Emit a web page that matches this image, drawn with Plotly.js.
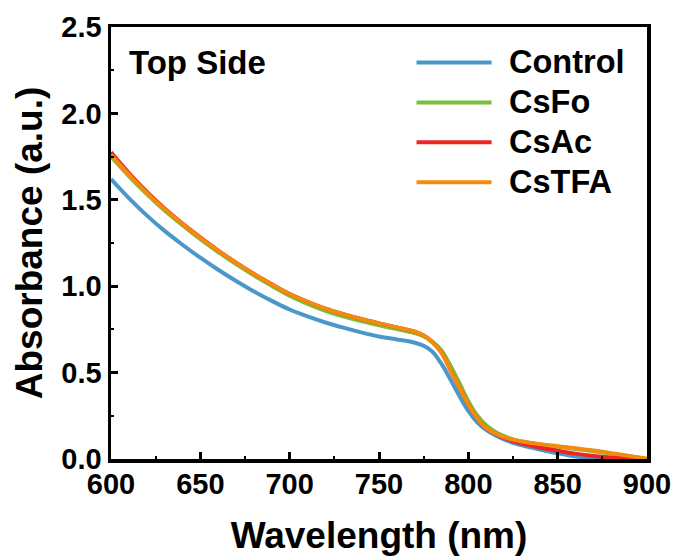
<!DOCTYPE html>
<html><head><meta charset="utf-8">
<script src="https://cdn.plot.ly/plotly-3.0.1.min.js"></script>
<style>body{margin:0;background:#fff}#chart{width:680px;height:559px}</style>
</head><body><div id="chart"></div>
<script>
const wavelength = [600,610,620,630,640,650,660,670,680,690,700,710,720,730,740,750,760,765,770,775,780,785,790,795,800,805,810,815,820,825,830,840,850,860,870,880,890,900];
const control = [1.62,1.51,1.41,1.32,1.24,1.165,1.095,1.03,0.97,0.915,0.865,0.825,0.79,0.76,0.733,0.709,0.692,0.684,0.673,0.655,0.62,0.55,0.46,0.365,0.278,0.212,0.168,0.137,0.113,0.094,0.079,0.055,0.033,0.015,0.006,0.002,0.001,0.0];
const csFo   = [1.75,1.637,1.533,1.438,1.353,1.273,1.198,1.128,1.063,1.002,0.945,0.898,0.858,0.826,0.798,0.774,0.752,0.741,0.729,0.71,0.678,0.628,0.54,0.44,0.335,0.252,0.195,0.158,0.132,0.114,0.102,0.084,0.071,0.058,0.045,0.031,0.016,0.001];
const csAc   = [1.775,1.655,1.547,1.449,1.362,1.282,1.206,1.136,1.071,1.011,0.955,0.91,0.87,0.838,0.81,0.785,0.762,0.75,0.737,0.715,0.675,0.615,0.515,0.415,0.315,0.235,0.18,0.146,0.122,0.104,0.09,0.067,0.048,0.031,0.018,0.009,0.003,0.0];
const csTFA  = [1.76,1.645,1.54,1.445,1.36,1.28,1.205,1.135,1.07,1.01,0.955,0.91,0.87,0.838,0.81,0.785,0.762,0.75,0.737,0.715,0.675,0.615,0.515,0.415,0.315,0.235,0.18,0.148,0.127,0.112,0.101,0.086,0.074,0.062,0.049,0.034,0.018,0.002];
const seriesNames = ["Control","CsFo","CsAc","CsTFA"];
const seriesColors = ["#4a98c9","#7cbf3a","#ee2424","#f28c0f"];
const seriesData = [control, csFo, csAc, csTFA];
const xTicks = [600,650,700,750,800,850,900];
const yTicks = [0,0.5,1.0,1.5,2.0,2.5];
const yTickText = ["0.0","0.5","1.0","1.5","2.0","2.5"];

const FONT = "Liberation Sans, Arial, sans-serif";
const traces = seriesData.map((d,i)=>({
  x: wavelength, y: d, type:'scatter', mode:'lines', name: seriesNames[i],
  line:{color: seriesColors[i], width:4, shape:'spline', smoothing:0.9}, showlegend:false
}));

const shapes = [], annotations = [];
const legX0 = 0.570, legX1 = 0.710, legY0 = 0.918, legDy = 0.0925;
seriesNames.forEach((n,i)=>{
  const yy = legY0 - i*legDy;
  shapes.push({type:'line', xref:'paper', yref:'paper', x0:legX0, x1:legX1, y0:yy, y1:yy,
    line:{color:seriesColors[i], width:4}});
  annotations.push({xref:'paper', yref:'paper', x:0.738, y:yy, xanchor:'left', yanchor:'middle',
    text:'<b>'+n+'</b>', showarrow:false, font:{family:FONT, size:32.5, color:'#000'}});
});
annotations.push({xref:'paper', yref:'paper', x:0.030, y:0.917, xanchor:'left', yanchor:'middle',
  text:'<b>Top Side</b>', showarrow:false, font:{family:FONT, size:33, color:'#000'}});

const layout = {
  width:680, height:559,
  margin:{l:111, r:33, t:27, b:100},
  paper_bgcolor:'#fff', plot_bgcolor:'#fff',
  font:{family:FONT, color:'#000'},
  xaxis:{range:[600,900], tickvals:xTicks, ticktext:xTicks.map(String),
    ticks:'inside', ticklen:7, tickwidth:3, tickcolor:'#000', ticklabelstandoff:-3,
    minor:{ticks:'inside', ticklen:3, tickwidth:2, dtick:25, tickcolor:'#000', showgrid:false},
    showline:true, linewidth:3.5, linecolor:'#000', mirror:true, showgrid:false, zeroline:false,
    tickfont:{family:FONT, size:29, color:'#000', weight:'bold'},
    title:{text:'<b>Wavelength (nm)</b>', font:{family:FONT, size:37, color:'#000'}, standoff:24}},
  yaxis:{range:[0,2.5], tickvals:yTicks, ticktext:yTickText,
    ticks:'inside', ticklen:7, tickwidth:3, tickcolor:'#000',
    minor:{ticks:'inside', ticklen:3, tickwidth:2, dtick:0.25, tickcolor:'#000', showgrid:false},
    showline:true, linewidth:3.5, linecolor:'#000', mirror:true, showgrid:false, zeroline:false,
    tickfont:{family:FONT, size:29, color:'#000', weight:'bold'},
    title:{text:'<b>Absorbance (a.u.)</b>', font:{family:FONT, size:37, color:'#000'}, standoff:8}},
  shapes: shapes, annotations: annotations, showlegend:false
};
Plotly.newPlot('chart', traces, layout, {displayModeBar:false, staticPlot:true});
</script></body></html>
